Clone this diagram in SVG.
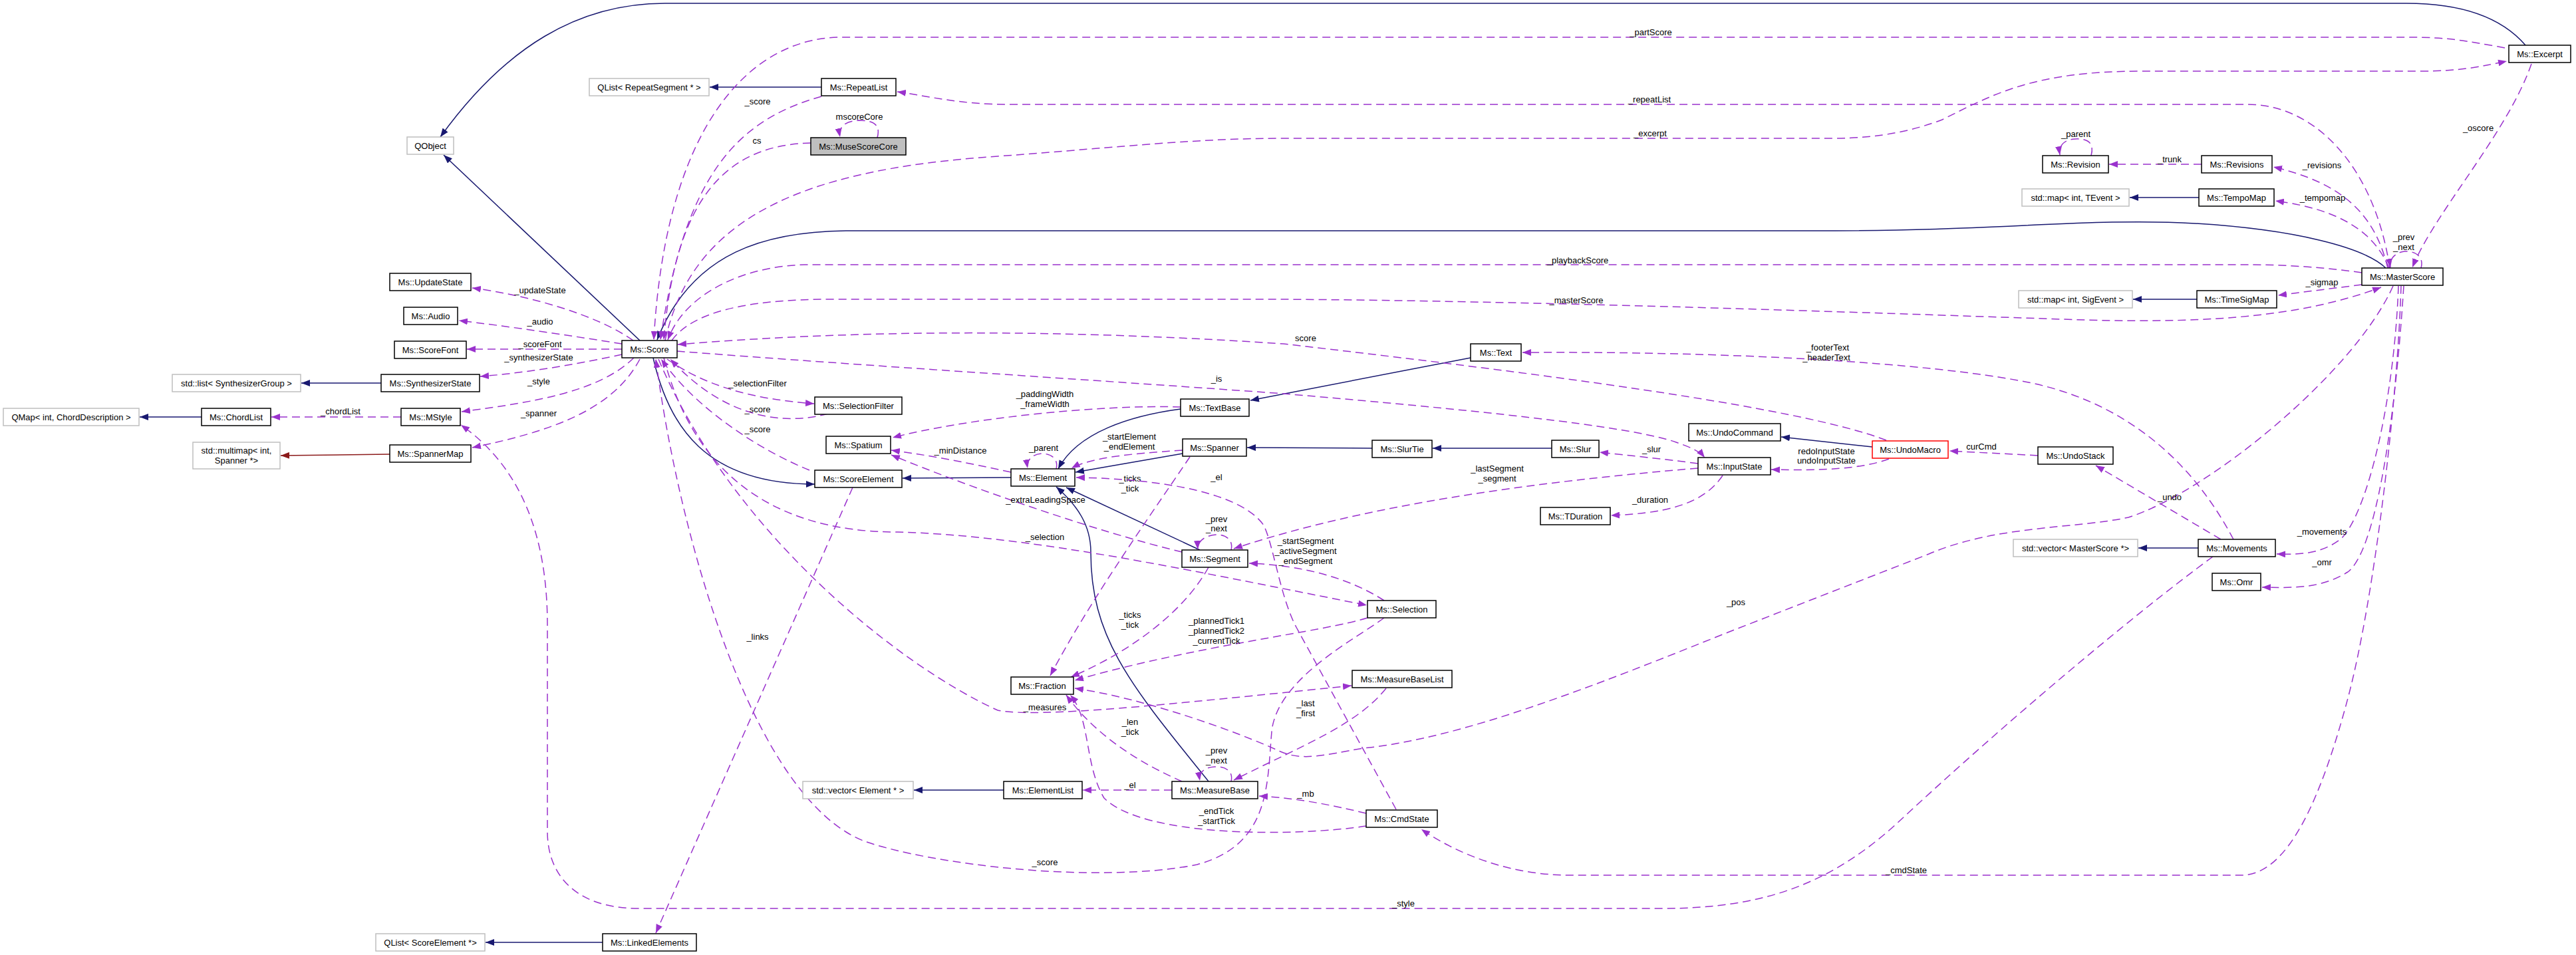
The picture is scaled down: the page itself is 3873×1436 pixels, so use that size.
<svg xmlns="http://www.w3.org/2000/svg" width="3873" height="1436" viewBox="0 0 3873 1436">
<style>
text{font-family:"Liberation Sans",Arial,Helvetica,sans-serif;font-size:13px;fill:#000}
.node rect{fill:#fff;stroke:#000;stroke-width:1.5}
.node.ext rect{stroke:#bfbfbf}
.node.root rect{fill:#bfbfbf}
.node.red rect{stroke:#ff0000}
.node text{text-anchor:middle}
.edge text{text-anchor:middle}
.use{fill:none;stroke:#9a32cd;stroke-width:1.5;stroke-dasharray:12,7;marker-end:url(#ap)}
.inh{fill:none;stroke:#191970;stroke-width:1.5;marker-end:url(#ab)}
.tpl{fill:none;stroke:#8b1a1a;stroke-width:1.5;marker-end:url(#ar)}
</style>
<defs>
<marker id="ap" viewBox="0 0 13 10" refX="13" refY="5" markerWidth="13" markerHeight="10" markerUnits="userSpaceOnUse" orient="auto"><path d="M0,0 L13,5 L0,10 z" fill="#9a32cd"/></marker>
<marker id="ab" viewBox="0 0 13 10" refX="13" refY="5" markerWidth="13" markerHeight="10" markerUnits="userSpaceOnUse" orient="auto"><path d="M0,0 L13,5 L0,10 z" fill="#191970"/></marker>
<marker id="ar" viewBox="0 0 13 10" refX="13" refY="5" markerWidth="13" markerHeight="10" markerUnits="userSpaceOnUse" orient="auto"><path d="M0,0 L13,5 L0,10 z" fill="#8b1a1a"/></marker>
</defs>
<rect x="0" y="0" width="3873" height="1436" fill="#fff"/>
<g id="edges">
<!-- inheritance -->
<g class="edge"><path class="inh" d="M962,512 L667,233"/></g>
<g class="edge"><path class="inh" d="M3797,68 C3760,25 3700,5 3618,5 L1000,5 C870,5 760,70 662,206"/></g>
<g class="edge"><path class="inh" d="M3587,403 C3555,372 3450,345 3300,336 C3150,327 3000,347 2760,347 L1290,347 C1150,345 1040,380 988,511"/></g>
<g class="edge"><path class="inh" d="M982,538 C1005,640 1060,728 1225,728"/></g>
<g class="edge"><path class="inh" d="M1520,718 L1357,719"/></g>
<g class="edge"><path class="inh" d="M1775,615 C1700,625 1620,650 1591,705"/></g>
<g class="edge"><path class="inh" d="M1778,682 L1617,710"/></g>
<g class="edge"><path class="inh" d="M1804,827 L1603,733"/></g>
<g class="edge"><path class="inh" d="M1817,1175 C1700,1030 1640,960 1640,830 C1640,790 1620,760 1588,732"/></g>
<g class="edge"><path class="inh" d="M2211,538 L1880,602"/></g>
<g class="edge"><path class="inh" d="M2063,674 L1875,673"/></g>
<g class="edge"><path class="inh" d="M2333,674 L2154,674"/></g>
<g class="edge"><path class="inh" d="M2815,672 L2678,657"/></g>
<g class="edge"><path class="inh" d="M1235,131 L1067,131"/></g>
<g class="edge"><path class="inh" d="M3306,297 L3202,297"/></g>
<g class="edge"><path class="inh" d="M3303,450 L3207,450"/></g>
<g class="edge"><path class="inh" d="M3305,824 L3215,824"/></g>
<g class="edge"><path class="inh" d="M573,576 L453,576"/></g>
<g class="edge"><path class="inh" d="M303,627 L210,627"/></g>
<g class="edge"><path class="tpl" d="M586,683 L422,685"/></g>
<g class="edge"><path class="inh" d="M1509,1188 L1374,1188"/></g>
<g class="edge"><path class="inh" d="M906,1417 L730,1417"/></g>
<!-- usage -->
<g class="edge"><path class="use" d="M1219,215 C1090,218 1015,300 998,511"/><text x="1138" y="215.5">cs</text></g>
<g class="edge"><path class="use" d="M1319,207 C1325,185 1310,181 1291,181 C1272,182 1260,190 1263,206"/><text x="1292" y="179.5">mscoreCore</text></g>
<g class="edge"><path class="use" d="M1235,145 C1110,180 1030,260 993,511"/><text x="1139" y="156.5">_score</text></g>
<g class="edge"><path class="use" d="M3766,72 C3700,60 3680,56 3620,56 L1260,56 C1120,60 1000,200 983,511"/><text x="2482" y="52.5">_partScore</text></g>
<g class="edge"><path class="use" d="M3593,403 C3570,250 3480,157 3380,157 L1520,157 C1440,157 1400,145 1349,138"/><text x="2480" y="153.5">_repeatList</text></g>
<g class="edge"><path class="use" d="M1000,512 C1040,330 1200,255 1500,235 C1700,220 1800,208 1930,208 L2755,208 C2830,208 2880,195 2920,180 C3000,140 3060,107 3220,107 L3640,107 C3700,107 3730,100 3769,92"/><text x="2481" y="204.5">_excerpt</text></g>
<g class="edge"><path class="use" d="M1010,512 C1040,470 1120,450 1250,450 L1920,450 C2300,452 2800,470 3100,480 C3300,487 3450,480 3580,432"/><text x="2370" y="455.5">_masterScore</text></g>
<g class="edge"><path class="use" d="M3551,410 C3480,400 3420,398 3380,398 L1210,398 C1120,400 1030,440 1004,511"/><text x="2372" y="395.5">_playbackScore</text></g>
<g class="edge"><path class="use" d="M952,512 C900,475 800,445 710,433"/><text x="812" y="440.5">_updateState</text></g>
<g class="edge"><path class="use" d="M935,517 C860,505 760,490 690,482"/><text x="812" y="487.5">_audio</text></g>
<g class="edge"><path class="use" d="M935,525 L702,525"/><text x="812" y="521.5">_scoreFont</text></g>
<g class="edge"><path class="use" d="M935,533 C880,545 800,560 722,566"/><text x="810" y="541.5">_synthesizerState</text></g>
<g class="edge"><path class="use" d="M953,538 C900,590 800,605 694,619"/><text x="810" y="577.5">_style</text></g>
<g class="edge"><path class="use" d="M962,540 C920,620 820,650 710,673"/><text x="810" y="625.5">_spanner</text></g>
<g class="edge"><path class="use" d="M603,627 L408,627"/><text x="512" y="622.5">_chordList</text></g>
<g class="edge"><path class="use" d="M3327,837 C3200,930 3000,1100 2850,1240 C2750,1330 2650,1366 2500,1366 L960,1366 C870,1366 823,1320 823,1250 L823,940 C823,800 780,700 693,639"/><text x="2110" y="1362.5">_style</text></g>
<g class="edge"><path class="use" d="M3610,430 C3605,600 3570,900 3530,1050 C3490,1200 3440,1316 3370,1316 L2360,1316 C2280,1316 2200,1290 2137,1247"/><text x="2866" y="1312.5">_cmdState</text></g>
<g class="edge"><path class="use" d="M3606,430 C3600,600 3560,770 3520,810 C3490,833 3460,834 3423,833"/><text x="3491" y="803.5">_movements</text></g>
<g class="edge"><path class="use" d="M3614,430 C3600,650 3570,830 3530,860 C3490,885 3450,884 3401,883"/><text x="3491" y="849.5">_omr</text></g>
<g class="edge"><path class="use" d="M3598,430 C3540,560 3320,740 3200,778 C3120,795 3000,790 2900,833 L2600,950 C2400,1030 2200,1110 2050,1125 C1990,1135 1960,1145 1925,1130 C1860,1100 1720,1050 1616,1035"/><text x="2610" y="909.5">_pos</text></g>
<g class="edge"><path class="use" d="M3806,96 C3770,200 3660,320 3627,402"/><text x="3726" y="196.5">_oscore</text></g>
<g class="edge"><path class="use" d="M3640,403 C3645,385 3630,377 3615,378 C3600,380 3592,390 3594,402"/><text x="3614" y="360.5">_prev</text><text x="3614" y="375.5">_next</text></g>
<g class="edge"><path class="use" d="M3590,403 C3570,320 3520,275 3418,251"/><text x="3491" y="252.5">_revisions</text></g>
<g class="edge"><path class="use" d="M3592,403 C3570,350 3520,315 3421,302"/><text x="3492" y="301.5">_tempomap</text></g>
<g class="edge"><path class="use" d="M3551,428 L3425,444"/><text x="3491" y="428.5">_sigmap</text></g>
<g class="edge"><path class="use" d="M3310,247 L3171,247"/><text x="3262" y="243.5">_trunk</text></g>
<g class="edge"><path class="use" d="M3144,234 C3150,212 3135,208 3120,209 C3102,210 3095,220 3097,233"/><text x="3121" y="205.5">_parent</text></g>
<g class="edge"><path class="use" d="M3358,811 C3310,720 3220,610 3050,575 C2900,545 2600,528 2289,530"/><text x="2748" y="526.5">_footerText</text><text x="2746" y="541.5">_headerText</text></g>
<g class="edge"><path class="use" d="M3339,811 L3151,700"/><text x="3262" y="751.5">_undo</text></g>
<g class="edge"><path class="use" d="M3064,685 L2931,678"/><text x="2979" y="675.5">curCmd</text></g>
<g class="edge"><path class="use" d="M2836,662 C2700,610 2300,560 1930,517 C1600,495 1300,495 1019,518"/><text x="1963" y="512.5">score</text></g>
<g class="edge"><path class="use" d="M1018,528 C1300,550 1700,575 1930,592 C2200,615 2450,640 2520,665 C2540,672 2555,678 2563,688"/><text x="1829" y="573.5">_is</text></g>
<g class="edge"><path class="use" d="M1003,540 C1060,580 1130,600 1224,607"/><text x="1139" y="580.5">_selectionFilter</text></g>
<g class="edge"><path class="use" d="M1245,622 C1180,640 1090,630 1008,540"/><text x="1139" y="619.5">_score</text></g>
<g class="edge"><path class="use" d="M1217,707 C1150,680 1050,620 994,540"/><text x="1139" y="649.5">_score</text></g>
<g class="edge"><path class="use" d="M998,538 C1040,700 1150,800 1350,800 C1550,805 1800,860 2055,910"/><text x="1571" y="811.5">_selection</text></g>
<g class="edge"><path class="use" d="M990,540 C1100,800 1350,1000 1500,1068 C1560,1080 1750,1060 2032,1031"/><text x="1571" y="1067.5">_measures</text></g>
<g class="edge"><path class="use" d="M2081,929 C2040,960 1920,1020 1912,1100 C1905,1180 1910,1270 1800,1300 C1650,1330 1400,1300 1300,1265 C1130,1200 1020,800 986,540"/><text x="1571" y="1300.5">_score</text></g>
<g class="edge"><path class="use" d="M1282,733 L986,1403"/><text x="1139" y="961.5">_links</text></g>
<g class="edge"><path class="use" d="M1789,687 C1740,760 1640,900 1579,1016"/><text x="1699" y="723.5">_ticks</text><text x="1699" y="738.5">_tick</text></g>
<g class="edge"><path class="use" d="M1817,853 C1780,920 1700,980 1610,1018"/><text x="1699" y="928.5">_ticks</text><text x="1699" y="943.5">_tick</text></g>
<g class="edge"><path class="use" d="M2056,929 C1990,950 1800,970 1616,1023"/><text x="1829" y="937.5">_plannedTick1</text><text x="1829" y="952.5">_plannedTick2</text><text x="1829" y="967.5">_currentTick</text></g>
<g class="edge"><path class="use" d="M1777,1175 C1720,1150 1650,1110 1603,1045"/><text x="1699" y="1089.5">_len</text><text x="1699" y="1104.5">_tick</text></g>
<g class="edge"><path class="use" d="M2054,1242 C1950,1258 1720,1260 1660,1200 C1630,1150 1640,1080 1609,1045"/><text x="1829" y="1223.5">_endTick</text><text x="1829" y="1238.5">_startTick</text></g>
<g class="edge"><path class="use" d="M2054,1223 C2000,1210 1950,1200 1893,1197"/><text x="1963" y="1197.5">_mb</text></g>
<g class="edge"><path class="use" d="M2099,1217 L1950,945 C1925,900 1915,820 1900,790 C1870,745 1760,720 1618,718"/><text x="1829" y="721.5">_el</text></g>
<g class="edge"><path class="use" d="M1762,1188 L1628,1188"/><text x="1699" y="1184.5">_el</text></g>
<g class="edge"><path class="use" d="M2084,1035 C2040,1090 1960,1120 1855,1173"/><text x="1963" y="1061.5">_last</text><text x="1963" y="1076.5">_first</text></g>
<g class="edge"><path class="use" d="M1851,1175 C1855,1158 1840,1152 1826,1153 C1810,1154 1802,1162 1804,1174"/><text x="1829" y="1132.5">_prev</text><text x="1829" y="1147.5">_next</text></g>
<g class="edge"><path class="use" d="M1851,827 C1855,810 1840,803 1828,804 C1812,805 1800,814 1801,826"/><text x="1829" y="784.5">_prev</text><text x="1829" y="798.5">_next</text></g>
<g class="edge"><path class="use" d="M1588,705 C1592,688 1578,682 1566,682 C1552,683 1543,692 1545,704"/><text x="1569" y="677.5">_parent</text></g>
<g class="edge"><path class="use" d="M2081,903 C2030,870 1960,850 1878,847"/><text x="1963" y="817.5">_startSegment</text><text x="1963" y="832.5">_activeSegment</text><text x="1963" y="847.5">_endSegment</text></g>
<g class="edge"><path class="use" d="M2553,704 C2300,725 2050,760 1855,825"/><text x="2251" y="708.5">_lastSegment</text><text x="2251" y="723.5">_segment</text></g>
<g class="edge"><path class="use" d="M1777,830 C1650,800 1450,730 1340,684"/><text x="1572" y="755.5">_extraLeadingSpace</text></g>
<g class="edge"><path class="use" d="M1520,710 C1450,695 1400,685 1340,677"/><text x="1444" y="681.5">_minDistance</text></g>
<g class="edge"><path class="use" d="M1775,612 C1650,608 1450,630 1342,658"/><text x="1571" y="596.5">_paddingWidth</text><text x="1571" y="611.5">_frameWidth</text></g>
<g class="edge"><path class="use" d="M1778,677 C1700,682 1640,688 1611,704"/><text x="1698" y="660.5">_startElement</text><text x="1698" y="675.5">_endElement</text></g>
<g class="edge"><path class="use" d="M2553,697 C2500,690 2450,685 2405,680"/><text x="2483" y="679.5">_slur</text></g>
<g class="edge"><path class="use" d="M2590,715 C2560,760 2500,772 2422,775"/><text x="2481" y="755.5">_duration</text></g>
<g class="edge"><path class="use" d="M2840,690 C2800,705 2740,708 2663,706"/><text x="2746" y="682.5">redoInputState</text><text x="2746" y="696.5">undoInputState</text></g>
</g>
<g id="nodes">
<g id="n-QObject" class="node ext"><rect x="612" y="206" width="70" height="26"/><text x="647" y="223.5">QObject</text></g>
<g id="n-QListRepeatSegment" class="node ext"><rect x="886" y="118" width="180" height="26"/><text x="976" y="135.5">QList&lt; RepeatSegment * &gt;</text></g>
<g id="n-RepeatList" class="node"><rect x="1235" y="118" width="112" height="26"/><text x="1291" y="135.5">Ms::RepeatList</text></g>
<g id="n-MuseScoreCore" class="node root"><rect x="1219" y="207" width="143" height="26"/><text x="1290.5" y="224.5">Ms::MuseScoreCore</text></g>
<g id="n-Excerpt" class="node"><rect x="3772" y="68" width="93" height="26"/><text x="3818.5" y="85.5">Ms::Excerpt</text></g>
<g id="n-Revision" class="node"><rect x="3071" y="234" width="99" height="26"/><text x="3120.5" y="251.5">Ms::Revision</text></g>
<g id="n-Revisions" class="node"><rect x="3310" y="234" width="106" height="26"/><text x="3363" y="251.5">Ms::Revisions</text></g>
<g id="n-MapTEvent" class="node ext"><rect x="3040" y="284" width="161" height="26"/><text x="3120.5" y="301.5">std::map&lt; int, TEvent &gt;</text></g>
<g id="n-TempoMap" class="node"><rect x="3306" y="284" width="113" height="26"/><text x="3362.5" y="301.5">Ms::TempoMap</text></g>
<g id="n-MasterScore" class="node"><rect x="3551" y="403" width="122" height="26"/><text x="3612" y="420.5">Ms::MasterScore</text></g>
<g id="n-MapSigEvent" class="node ext"><rect x="3035" y="437" width="171" height="26"/><text x="3120.5" y="454.5">std::map&lt; int, SigEvent &gt;</text></g>
<g id="n-TimeSigMap" class="node"><rect x="3303" y="437" width="120" height="26"/><text x="3363" y="454.5">Ms::TimeSigMap</text></g>
<g id="n-UpdateState" class="node"><rect x="586" y="411" width="122" height="26"/><text x="647" y="428.5">Ms::UpdateState</text></g>
<g id="n-Audio" class="node"><rect x="607" y="462" width="81" height="26"/><text x="647.5" y="479.5">Ms::Audio</text></g>
<g id="n-ScoreFont" class="node"><rect x="593" y="513" width="108" height="26"/><text x="647" y="530.5">Ms::ScoreFont</text></g>
<g id="n-ListSynthGroup" class="node ext"><rect x="259" y="563" width="193" height="26"/><text x="355.5" y="580.5">std::list&lt; SynthesizerGroup &gt;</text></g>
<g id="n-SynthesizerState" class="node"><rect x="573" y="563" width="148" height="26"/><text x="647" y="580.5">Ms::SynthesizerState</text></g>
<g id="n-QMapChord" class="node ext"><rect x="5" y="614" width="204" height="26"/><text x="107" y="631.5">QMap&lt; int, ChordDescription &gt;</text></g>
<g id="n-ChordList" class="node"><rect x="303" y="614" width="104" height="26"/><text x="355" y="631.5">Ms::ChordList</text></g>
<g id="n-MStyle" class="node"><rect x="603" y="614" width="89" height="26"/><text x="647.5" y="631.5">Ms::MStyle</text></g>
<g id="n-Multimap" class="node ext"><rect x="290" y="665" width="131" height="40"/><text x="355.5" y="681.5">std::multimap&lt; int,</text><text x="355.5" y="696.5">Spanner *&gt;</text></g>
<g id="n-SpannerMap" class="node"><rect x="586" y="669" width="122" height="26"/><text x="647" y="686.5">Ms::SpannerMap</text></g>
<g id="n-Score" class="node"><rect x="935" y="512" width="83" height="26"/><text x="976.5" y="529.5">Ms::Score</text></g>
<g id="n-SelectionFilter" class="node"><rect x="1225" y="597" width="131" height="26"/><text x="1290.5" y="614.5">Ms::SelectionFilter</text></g>
<g id="n-Spatium" class="node"><rect x="1242" y="656" width="97" height="26"/><text x="1290.5" y="673.5">Ms::Spatium</text></g>
<g id="n-ScoreElement" class="node"><rect x="1225" y="707" width="131" height="26"/><text x="1290.5" y="724.5">Ms::ScoreElement</text></g>
<g id="n-Element" class="node"><rect x="1520" y="705" width="96" height="26"/><text x="1568" y="722.5">Ms::Element</text></g>
<g id="n-TextBase" class="node"><rect x="1775" y="600" width="103" height="26"/><text x="1826.5" y="617.5">Ms::TextBase</text></g>
<g id="n-Spanner" class="node"><rect x="1778" y="660" width="96" height="26"/><text x="1826" y="677.5">Ms::Spanner</text></g>
<g id="n-Segment" class="node"><rect x="1777" y="827" width="99" height="26"/><text x="1826.5" y="844.5">Ms::Segment</text></g>
<g id="n-Text" class="node"><rect x="2211" y="517" width="76" height="26"/><text x="2249" y="534.5">Ms::Text</text></g>
<g id="n-UndoCommand" class="node"><rect x="2539" y="637" width="138" height="26"/><text x="2608" y="654.5">Ms::UndoCommand</text></g>
<g id="n-SlurTie" class="node"><rect x="2063" y="662" width="90" height="26"/><text x="2108" y="679.5">Ms::SlurTie</text></g>
<g id="n-Slur" class="node"><rect x="2333" y="662" width="71" height="26"/><text x="2368.5" y="679.5">Ms::Slur</text></g>
<g id="n-InputState" class="node"><rect x="2553" y="688" width="109" height="26"/><text x="2607.5" y="705.5">Ms::InputState</text></g>
<g id="n-UndoMacro" class="node red"><rect x="2815" y="663" width="114" height="26"/><text x="2872" y="680.5">Ms::UndoMacro</text></g>
<g id="n-TDuration" class="node"><rect x="2316" y="763" width="105" height="26"/><text x="2368.5" y="780.5">Ms::TDuration</text></g>
<g id="n-Selection" class="node"><rect x="2056" y="903" width="103" height="26"/><text x="2107.5" y="920.5">Ms::Selection</text></g>
<g id="n-UndoStack" class="node"><rect x="3064" y="672" width="113" height="26"/><text x="3120.5" y="689.5">Ms::UndoStack</text></g>
<g id="n-VectorMasterScore" class="node ext"><rect x="3027" y="811" width="187" height="26"/><text x="3120.5" y="828.5">std::vector&lt; MasterScore *&gt;</text></g>
<g id="n-Movements" class="node"><rect x="3305" y="811" width="116" height="26"/><text x="3363" y="828.5">Ms::Movements</text></g>
<g id="n-Omr" class="node"><rect x="3326" y="862" width="73" height="26"/><text x="3362.5" y="879.5">Ms::Omr</text></g>
<g id="n-QListScoreElement" class="node ext"><rect x="565" y="1404" width="164" height="26"/><text x="647" y="1421.5">QList&lt; ScoreElement *&gt;</text></g>
<g id="n-LinkedElements" class="node"><rect x="906" y="1404" width="141" height="26"/><text x="976.5" y="1421.5">Ms::LinkedElements</text></g>
<g id="n-Fraction" class="node"><rect x="1520" y="1018" width="94" height="26"/><text x="1567" y="1035.5">Ms::Fraction</text></g>
<g id="n-VectorElement" class="node ext"><rect x="1207" y="1175" width="166" height="26"/><text x="1290" y="1192.5">std::vector&lt; Element * &gt;</text></g>
<g id="n-ElementList" class="node"><rect x="1509" y="1175" width="118" height="26"/><text x="1568" y="1192.5">Ms::ElementList</text></g>
<g id="n-MeasureBase" class="node"><rect x="1762" y="1175" width="129" height="26"/><text x="1826.5" y="1192.5">Ms::MeasureBase</text></g>
<g id="n-MeasureBaseList" class="node"><rect x="2033" y="1008" width="150" height="26"/><text x="2108" y="1025.5">Ms::MeasureBaseList</text></g>
<g id="n-CmdState" class="node"><rect x="2054" y="1218" width="107" height="26"/><text x="2107.5" y="1235.5">Ms::CmdState</text></g>
</g>
</svg>
